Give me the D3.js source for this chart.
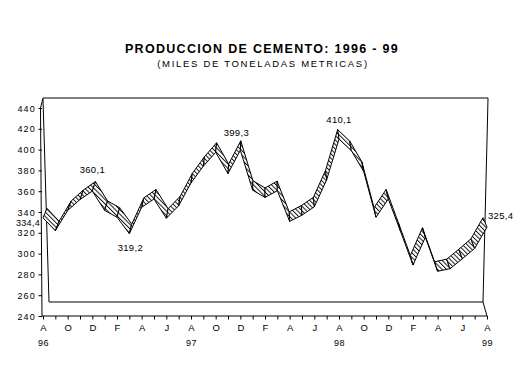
<!DOCTYPE html>
<html>
<head>
<meta charset="utf-8">
<script src="https://cdn.jsdelivr.net/npm/d3@7"></script>
<style>
  html, body { margin: 0; padding: 0; background: #fff; }
  svg { display: block; }
  text { font-family: "Liberation Sans", Arial, sans-serif; fill: #000; }
</style>
</head>
<body>
<svg id="chart" width="523" height="376"></svg>
<script>
// ---- data ----
const months = ["A","S","O","N","D","E","F","M","A","M","J","J",
                "A","S","O","N","D","E","F","M","A","M","J","J",
                "A","S","O","N","D","E","F","M","A","M","J","J","A"];
const years = ["96", "97", "98", "99"];
const yearIndex = [0, 12, 24, 36];
const production = [334.4, 322, 341.5, 352, 360.1, 341.5, 335, 319.2, 344.5, 352.5, 334, 346,
                    368, 384, 397.4, 377, 399.3, 361, 354, 360.5, 331, 337, 345, 371,
                    410.1, 399, 379, 335, 352.5, 321, 289, 315.7, 283, 285.5, 295, 305, 325.4];
const labelIndex = [0, 4, 7, 16, 24, 36];
const yTicks = [240, 260, 280, 300, 320, 340, 360, 380, 400, 420, 440];
const title = "PRODUCCION DE CEMENTO: 1996 - 99";
const subtitle = "(MILES DE TONELADAS METRICAS)";

// ---- layout ----
const svg = d3.select("#chart");
const x = d3.scaleLinear().domain([0, production.length - 1]).range([43, 487]);
const y = d3.scaleLinear().domain([240, 440]).range([316, 108]);
const fmt = v => d3.format(".1f")(v).replace(".", ",");

// hatch pattern
const defs = svg.append("defs");
const pat = defs.append("pattern").attr("id", "hatch")
  .attr("patternUnits", "userSpaceOnUse").attr("width", 3.2).attr("height", 3.2)
  .attr("patternTransform", "rotate(-45)");
pat.append("rect").attr("width", 3.2).attr("height", 3.2).attr("fill", "#fff");
pat.append("line").attr("x1", 0.5).attr("y1", 0).attr("x2", 0.5).attr("y2", 3.2)
  .attr("stroke", "#000").attr("stroke-width", 0.9);

// titles
svg.append("text").attr("x", 262).attr("y", 53).attr("text-anchor", "middle")
  .style("font-size", "12.5px").style("font-weight", "bold").style("letter-spacing", "1.3px")
  .text(title);
svg.append("text").attr("x", 263).attr("y", 67).attr("text-anchor", "middle")
  .style("font-size", "9.5px").style("letter-spacing", "1.7px")
  .text(subtitle);

// walls / frame
const frame = svg.append("g").attr("fill", "none").attr("stroke", "#000").attr("stroke-width", 1);
const L = x.range()[0], R = x.range()[1], B = y.range()[0];
frame.append("path").attr("d", `M${L},98 L488,98 L487.5,120 L483,302 L${R},${B}`);
frame.append("path").attr("d", `M${L},99 L49,302 L483,302`);
frame.append("path").attr("d", `M${L},98 L40.5,108 L42,${B} L${R},${B}`);

// y axis ticks + labels
const yAx = svg.append("g");
yTicks.forEach(t => {
  yAx.append("line").attr("x1", 38.5).attr("x2", 42).attr("y1", y(t) + 0.5).attr("y2", y(t) + 0.5)
    .attr("stroke", "#000");
  yAx.append("text").attr("x", 36).attr("y", y(t) + 3.5).attr("text-anchor", "end")
    .style("font-size", "9px").style("letter-spacing", "1.2px").text(t);
});

// x axis ticks + labels
const xAx = svg.append("g");
months.forEach((m, i) => {
  xAx.append("line").attr("x1", x(i) + 0.5).attr("x2", x(i) + 0.5).attr("y1", B).attr("y2", B + 3.5)
    .attr("stroke", "#000");
  if (i % 2 === 0) {
    xAx.append("text").attr("x", x(i) + 0.5).attr("y", B + 15).attr("text-anchor", "middle")
      .style("font-size", "9.5px").text(m);
  }
});
years.forEach((yr, k) => {
  xAx.append("text").attr("x", x(yearIndex[k]) + 0.5).attr("y", B + 30).attr("text-anchor", "middle")
    .style("font-size", "9px").style("letter-spacing", "0.6px").text(yr);
});

// ribbon (3D line)
const depthY = -9.5;
const depthX = px => -(px - 265) * 0.018;
const front = production.map((v, i) => [x(i), y(v)]);
const back = front.map(([px, py]) => [px + depthX(px), py + depthY]);
const rib = svg.append("g");
for (let i = 0; i < production.length - 1; i++) {
  const quad = [front[i], front[i + 1], back[i + 1], back[i]];
  rib.append("path").attr("d", d3.line()(quad) + "Z")
    .attr("fill", "url(#hatch)").attr("stroke", "#000").attr("stroke-width", 1)
    .attr("stroke-linejoin", "round");
}

// data labels
const labelOffsets = {0: [-3, 8.5, "end"], 4: [0, -18, "middle"], 7: [1, 17, "middle"],
                      16: [-4, -14, "middle"], 24: [0, -16, "middle"], 36: [1, -8, "start"]};
labelIndex.forEach(i => {
  const o = labelOffsets[i];
  svg.append("text").attr("x", x(i) + o[0]).attr("y", y(production[i]) + o[1])
    .attr("text-anchor", o[2]).style("font-size", i === 0 ? "9px" : "9.5px").style("letter-spacing", "0.3px")
    .text(fmt(production[i]));
});
</script>
</body>
</html>
